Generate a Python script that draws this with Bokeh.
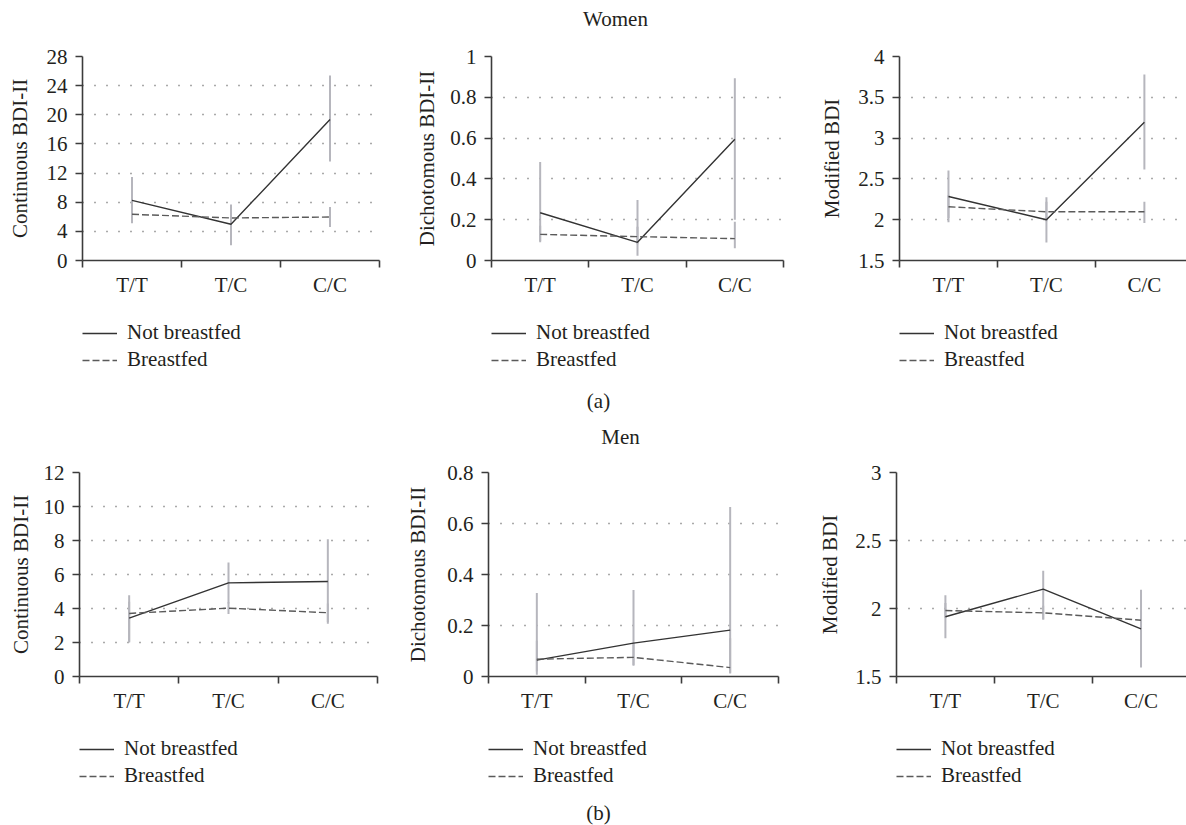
from bokeh.plotting import figure
from bokeh.models import FixedTicker, Legend, LegendItem, Label, Range1d
from bokeh.layouts import column, row
from bokeh.embed import file_html
from bokeh.resources import INLINE

# ---------------- data ----------------
genotypes = ["T/T", "T/C", "C/C"]
legend_labels = ["Not breastfed", "Breastfed"]
captions = ["Women", "(a)", "Men", "(b)"]

# Women - Continuous BDI-II
w_cont_nb = [8.26, 4.97, 19.36]
w_cont_nb_lo = [5.1, 2.1, 13.6]
w_cont_nb_hi = [11.45, 7.67, 25.4]
w_cont_bf = [6.34, 5.84, 5.97]
w_cont_bf_lo = [5.15, 4.4, 4.6]
w_cont_bf_hi = [7.5, 7.3, 7.34]
w_cont_ticks = [0, 4, 8, 12, 16, 20, 24, 28]
w_cont_labels = ["0", "4", "8", "12", "16", "20", "24", "28"]

# Women - Dichotomous BDI-II
w_dich_nb = [0.234, 0.089, 0.594]
w_dich_nb_lo = [0.09, 0.023, 0.2]
w_dich_nb_hi = [0.483, 0.296, 0.893]
w_dich_bf = [0.128, 0.117, 0.107]
w_dich_bf_lo = [0.095, 0.08, 0.06]
w_dich_bf_hi = [0.17, 0.165, 0.19]
w_dich_ticks = [0, 0.2, 0.4, 0.6, 0.8, 1.0]
w_dich_labels = ["0", "0.2", "0.4", "0.6", "0.8", "1"]

# Women - Modified BDI
w_mod_nb = [2.284, 2.0, 3.195]
w_mod_nb_lo = [1.97, 1.72, 2.615]
w_mod_nb_hi = [2.603, 2.276, 3.78]
w_mod_bf = [2.158, 2.097, 2.097]
w_mod_bf_lo = [2.02, 1.98, 1.96]
w_mod_bf_hi = [2.3, 2.22, 2.22]
w_mod_ticks = [1.5, 2.0, 2.5, 3.0, 3.5, 4.0]
w_mod_labels = ["1.5", "2", "2.5", "3", "3.5", "4"]

# Men - Continuous BDI-II
m_cont_nb = [3.43, 5.51, 5.59]
m_cont_nb_lo = [2.05, 4.3, 3.1]
m_cont_nb_hi = [4.78, 6.71, 8.08]
m_cont_bf = [3.71, 4.02, 3.75]
m_cont_bf_lo = [2.0, 3.67, 3.2]
m_cont_bf_hi = [4.4, 4.37, 4.3]
m_cont_ticks = [0, 2, 4, 6, 8, 10, 12]
m_cont_labels = ["0", "2", "4", "6", "8", "10", "12"]

# Men - Dichotomous BDI-II
m_dich_nb = [0.064, 0.131, 0.182]
m_dich_nb_lo = [0.007, 0.042, 0.012]
m_dich_nb_hi = [0.327, 0.339, 0.665]
m_dich_bf = [0.068, 0.075, 0.035]
m_dich_bf_lo = [0.02, 0.045, 0.015]
m_dich_bf_hi = [0.14, 0.13, 0.15]
m_dich_ticks = [0, 0.2, 0.4, 0.6, 0.8]
m_dich_labels = ["0", "0.2", "0.4", "0.6", "0.8"]

# Men - Modified BDI
m_mod_nb = [1.939, 2.142, 1.85]
m_mod_nb_lo = [1.782, 1.92, 1.566]
m_mod_nb_hi = [2.098, 2.277, 2.137]
m_mod_bf = [1.985, 1.968, 1.914]
m_mod_bf_lo = [1.93, 1.92, 1.85]
m_mod_bf_hi = [2.04, 2.02, 1.98]
m_mod_ticks = [1.5, 2.0, 2.5, 3.0]
m_mod_labels = ["1.5", "2", "2.5", "3"]

# ---------------- style ----------------
FONT = "Liberation Serif"
FS = "21px"
TXT = "#231f20"
AX = "#3c3c3c"
ERR = "#b6b6bd"
NB_C = "#333333"
BF_C = "#5a5a5a"
NB_W = 1.4
BF_W = 1.4
BF_DASH = "7 3"
PAGE_W = 1186


def panel(nb, nb_lo, nb_hi, bf, bf_lo, bf_hi, yticks, ylabels, ylabel,
          width, height, bl, br, bt, bb, x_end, lab_standoff):
    p = figure(width=width, height=height,
               x_range=Range1d(0, x_end), y_range=Range1d(yticks[0], yticks[-1]),
               output_backend="svg", toolbar_location=None,
               min_border_left=bl, min_border_right=br,
               min_border_top=bt, min_border_bottom=bb)
    p.outline_line_color = None
    p.xgrid.visible = False
    xs = [i + 0.5 for i in range(len(genotypes))]

    p.segment(xs, nb_lo, xs, nb_hi, line_color=ERR, line_width=2)
    p.segment(xs, bf_lo, xs, bf_hi, line_color=ERR, line_width=2)
    p.line(xs, nb, line_color=NB_C, line_width=NB_W)
    p.line(xs, bf, line_color=BF_C, line_width=BF_W, line_dash=BF_DASH)

    # y axis
    yax = p.yaxis[0]
    yax.ticker = FixedTicker(ticks=yticks)
    yax.major_label_overrides = dict(zip(yticks, ylabels))
    yax.axis_label = ylabel
    yax.axis_label_text_font = FONT
    yax.axis_label_text_font_size = FS
    yax.axis_label_text_font_style = "normal"
    yax.axis_label_text_color = TXT
    yax.axis_label_standoff = lab_standoff
    yax.major_label_text_font = FONT
    yax.major_label_text_font_size = FS
    yax.major_label_text_color = TXT
    yax.major_label_standoff = 8
    yax.major_tick_out = 7
    yax.major_tick_in = 0
    yax.minor_tick_line_color = None
    yax.axis_line_color = AX
    yax.axis_line_width = 1.6
    yax.major_tick_line_color = AX
    yax.major_tick_line_width = 1.6

    p.ygrid.grid_line_dash = "1 11"
    p.ygrid.grid_line_color = "#555555"
    p.ygrid.grid_line_width = 1.3

    # x axis
    xax = p.xaxis[0]
    xax.ticker = FixedTicker(ticks=xs, minor_ticks=list(range(len(genotypes) + 1)))
    xax.major_label_overrides = dict(zip(xs, genotypes))
    xax.major_tick_out = 0
    xax.major_tick_in = 0
    xax.minor_tick_out = 7
    xax.minor_tick_in = 0
    xax.minor_tick_line_color = AX
    xax.minor_tick_line_width = 1.6
    xax.axis_line_color = AX
    xax.axis_line_width = 1.6
    xax.major_label_text_font = FONT
    xax.major_label_text_font_size = FS
    xax.major_label_text_color = TXT
    xax.major_label_standoff = 5
    return p


def bare(height):
    s = figure(width=PAGE_W, height=height, output_backend="svg", toolbar_location=None,
               x_axis_location=None, y_axis_location=None, min_border=0)
    s.outline_line_color = None
    s.grid.visible = False
    return s


def strip(height, items):
    s = bare(height)
    for text, x, y in items:
        s.add_layout(Label(x=x, y=y, x_units="screen", y_units="screen", text=text,
                           text_align="center", text_baseline="middle",
                           text_font=FONT, text_font_size=FS, text_color=TXT))
    return s


def legend_strip(height, xs_left, vy, nb, bf):
    s = bare(height)
    xs = [i + 0.5 for i in range(len(genotypes))]
    # hidden copies of the series, used only as legend keys
    k_nb = s.line(xs, nb, line_color=NB_C, line_width=NB_W, visible=False)
    k_bf = s.line(xs, bf, line_color=BF_C, line_width=BF_W, line_dash=BF_DASH, visible=False)
    for x0 in xs_left:
        leg = Legend(items=[LegendItem(label=legend_labels[0], renderers=[k_nb]),
                            LegendItem(label=legend_labels[1], renderers=[k_bf])],
                     location=(x0, vy), orientation="vertical",
                     glyph_width=35, glyph_height=20, label_height=20,
                     label_standoff=10, spacing=2, padding=0, margin=0,
                     border_line_color=None, background_fill_alpha=0,
                     inactive_fill_alpha=0,
                     label_text_font=FONT, label_text_font_size=FS,
                     label_text_color=TXT)
        s.add_layout(leg)
    return s


H, BT, BB = 260, 16, 40

f1 = panel(w_cont_nb, w_cont_nb_lo, w_cont_nb_hi, w_cont_bf, w_cont_bf_lo, w_cont_bf_hi,
           w_cont_ticks, w_cont_labels, "Continuous BDI-II",
           389, H, 82, 10, BT, BB, 3.0, 12)
f2 = panel(w_dich_nb, w_dich_nb_lo, w_dich_nb_hi, w_dich_bf, w_dich_bf_lo, w_dich_bf_hi,
           w_dich_ticks, w_dich_labels, "Dichotomous BDI-II",
           404, H, 102, 10, BT, BB, 3.0, 8)
f3 = panel(w_mod_nb, w_mod_nb_lo, w_mod_nb_hi, w_mod_bf, w_mod_bf_lo, w_mod_bf_hi,
           w_mod_ticks, w_mod_labels, "Modified BDI",
           393, H, 106, 0, BT, BB, 2.93, 11)

f4 = panel(m_cont_nb, m_cont_nb_lo, m_cont_nb_hi, m_cont_bf, m_cont_bf_lo, m_cont_bf_hi,
           m_cont_ticks, m_cont_labels, "Continuous BDI-II",
           387, H, 79, 10, BT, BB, 3.0, 8)
f5 = panel(m_dich_nb, m_dich_nb_lo, m_dich_nb_hi, m_dich_bf, m_dich_bf_lo, m_dich_bf_hi,
           m_dich_ticks, m_dich_labels, "Dichotomous BDI-II",
           401, H, 101, 10, BT, BB, 3.0, 14)
f6 = panel(m_mod_nb, m_mod_nb_lo, m_mod_nb_hi, m_mod_bf, m_mod_bf_lo, m_mod_bf_hi,
           m_mod_ticks, m_mod_labels, "Modified BDI",
           398, H, 108, 0, BT, BB, 2.965, 10)

s_top = strip(40, [(captions[0], 615, 22)])
leg1 = legend_strip(80, [82, 491, 899], 8, w_cont_nb, w_cont_bf)
s_mid = strip(76, [(captions[1], 598, 56), (captions[2], 620, 20)])
leg2 = legend_strip(76, [79, 488, 896], 4, m_cont_nb, m_cont_bf)
s_bot = strip(33, [(captions[3], 598, 13)])

layout = column(s_top, row(f1, f2, f3), leg1, s_mid, row(f4, f5, f6), leg2, s_bot)
open("out.html", "w").write(file_html(layout, INLINE))
